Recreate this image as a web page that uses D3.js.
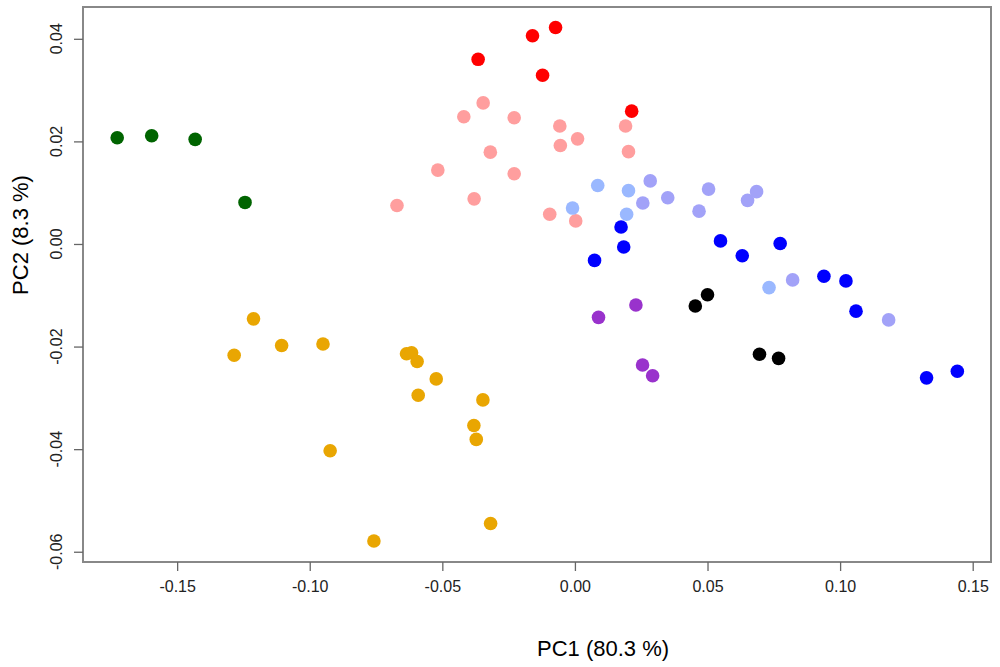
<!DOCTYPE html>
<html>
<head>
<meta charset="utf-8">
<script src="https://cdn.jsdelivr.net/npm/d3@7"></script>
<style>
  body { margin: 0; background: #fff; }
  text { font-family: "Liberation Sans", Arial, sans-serif; }
</style>
</head>
<body>
<div id="chart"></div>
<script>
const width = 1000, height = 667;

// PCA scores, one array per group: [PC1, PC2]
const green = [[-0.1726, 0.0207], [-0.1596, 0.0211], [-0.1432, 0.0204], [-0.1244, 0.0081]];
const red = [[-0.0365, 0.0360], [-0.0160, 0.0406], [-0.0073, 0.0422], [-0.0122, 0.0329], [0.0214, 0.0259]];
const pink = [[-0.0346, 0.0275], [-0.0419, 0.0248], [-0.0229, 0.0246], [-0.0057, 0.0230], [0.0191, 0.0230],
  [0.0010, 0.0205], [-0.0055, 0.0192], [0.0202, 0.0180], [-0.0319, 0.0179], [-0.0517, 0.0144],
  [-0.0229, 0.0137], [-0.0380, 0.0088], [-0.0671, 0.0075], [-0.0095, 0.0058], [0.0003, 0.0045]];
const lightBlue = [[0.0086, 0.0114], [0.0202, 0.0104], [-0.0009, 0.0070], [0.0195, 0.0058], [0.0732, -0.0085]];
const lavender = [[0.0284, 0.0123], [0.0256, 0.0080], [0.0350, 0.0090], [0.0504, 0.0107], [0.0468, 0.0064],
  [0.0685, 0.0102], [0.0651, 0.0085], [0.0821, -0.0070], [0.1183, -0.0148]];
const blue = [[0.0174, 0.0033], [0.0184, -0.0006], [0.0074, -0.0032], [0.0549, 0.0006], [0.0631, -0.0023],
  [0.0774, 0.0001], [0.0939, -0.0063], [0.1022, -0.0072], [0.1060, -0.0131], [0.1326, -0.0261], [0.1442, -0.0248]];
const black = [[0.0500, -0.0099], [0.0454, -0.0121], [0.0696, -0.0215], [0.0768, -0.0223]];
const purple = [[0.0230, -0.0119], [0.0089, -0.0143], [0.0255, -0.0236], [0.0293, -0.0257]];
const orange = [[-0.1212, -0.0146], [-0.1285, -0.0217], [-0.1106, -0.0198], [-0.0950, -0.0195], [-0.0635, -0.0214],
  [-0.0616, -0.0212], [-0.0595, -0.0229], [-0.0523, -0.0263], [-0.0591, -0.0295], [-0.0347, -0.0304],
  [-0.0381, -0.0354], [-0.0372, -0.0381], [-0.0923, -0.0403], [-0.0318, -0.0545], [-0.0758, -0.0579]];

const xTicks = [-0.15, -0.10, -0.05, 0.00, 0.05, 0.10, 0.15];
const yTicks = [-0.06, -0.04, -0.02, 0.00, 0.02, 0.04];

const groups = [
  {pts: green, col: "#006400"},
  {pts: orange, col: "#e9a602"},
  {pts: pink, col: "#ff9e9e"},
  {pts: red, col: "#ff0000"},
  {pts: lightBlue, col: "#9ab8ff"},
  {pts: lavender, col: "#a2a2f8"},
  {pts: blue, col: "#0000ff"},
  {pts: black, col: "#000000"},
  {pts: purple, col: "#9932cc"}
];

const box = {left: 83, right: 991, top: 7, bottom: 562};

const x = d3.scaleLinear().domain([-0.1855, 0.1569]).range([box.left, box.right]);
const y = d3.scaleLinear().domain([-0.062, 0.0462]).range([box.bottom, box.top]);

const svg = d3.select("#chart").append("svg")
    .attr("width", width)
    .attr("height", height);

// points
groups.forEach(g => {
    svg.append("g").selectAll("circle")
        .data(g.pts)
        .enter()
        .append("circle")
        .attr("cx", d => x(d[0]))
        .attr("cy", d => y(d[1]))
        .attr("r", 6.8)
        .attr("fill", g.col)
});

// box
svg.append("rect")
    .attr("x", box.left)
    .attr("y", box.top)
    .attr("width", box.right - box.left)
    .attr("height", box.bottom - box.top)
    .attr("fill", "none")
    .attr("stroke", "#888")
    .attr("stroke-width", 2)

// x axis
const xAxis = svg.append("g")
    .attr("transform", `translate(0,${box.bottom})`)
    .call(d3.axisBottom(x).tickValues(xTicks).tickSize(9).tickPadding(10).tickFormat(d3.format(".2f")))
xAxis.select(".domain").remove();
xAxis.selectAll("line").attr("stroke", "#666").attr("stroke-width", 1.3);
xAxis.selectAll("text")
    .attr("font-size", 16)
    .attr("fill", "#222")
    .text(d => d3.format(".2f")(d).replace("−", "-"));

// y axis, labels turned like R's default
const yAxis = svg.append("g")
    .attr("transform", `translate(${box.left},0)`)
    .call(d3.axisLeft(y).tickValues(yTicks).tickSize(9).tickFormat(""))
yAxis.select(".domain").remove();
yAxis.selectAll("line").attr("stroke", "#666").attr("stroke-width", 1.3);

svg.append("g").selectAll("text")
    .data(yTicks)
    .enter()
    .append("text")
    .attr("transform", d => `translate(62,${y(d)}) rotate(-90)`)
    .attr("text-anchor", "middle")
    .attr("font-size", 16)
    .attr("fill", "#222")
    .text(d => d3.format(".2f")(d).replace("−", "-"));

// axis titles
svg.append("text")
    .attr("x", 603)
    .attr("y", 656)
    .attr("text-anchor", "middle")
    .attr("font-size", 22)
    .text("PC1 (80.3 %)");

svg.append("text")
    .attr("transform", "translate(28,235) rotate(-90)")
    .attr("text-anchor", "middle")
    .attr("font-size", 22)
    .text("PC2 (8.3 %)");
</script>
</body>
</html>
